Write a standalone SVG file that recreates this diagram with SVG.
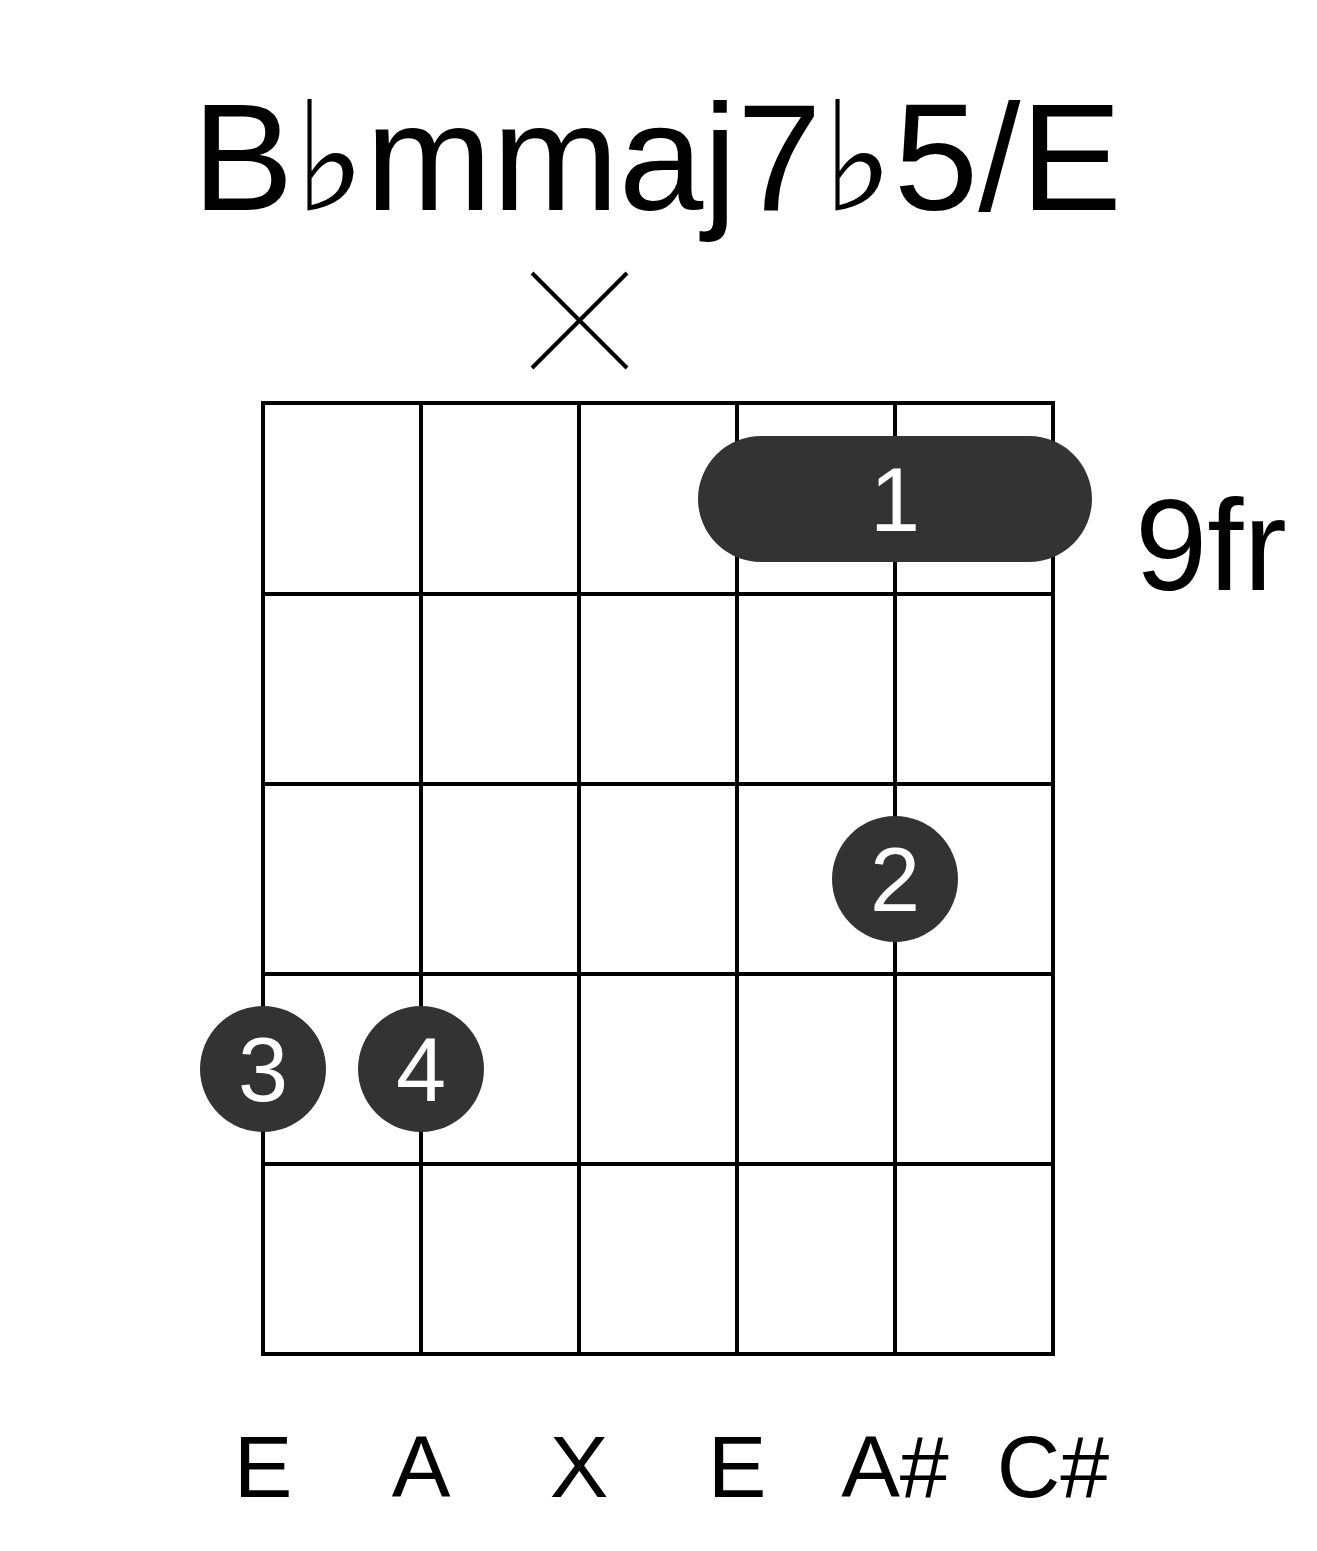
<svg xmlns="http://www.w3.org/2000/svg" width="1317" height="1551" viewBox="0 0 1317 1551">
<style>
.t{font-family:"Liberation Sans",Arial,sans-serif;fill:#000}
.g{stroke:#000;stroke-width:4;fill:none}
.d{fill:#333}
.w{font-family:"Liberation Sans",Arial,sans-serif;fill:#fff;font-size:90px;text-anchor:middle}
.n{font-family:"Liberation Sans",Arial,sans-serif;font-size:88px;text-anchor:middle}
</style>
<rect width="1317" height="1551" fill="#fff"/>
<text id="title" class="t" x="657" y="210" font-size="152" text-anchor="middle">B♭mmaj7♭5/E</text>
<g id="mute" class="g" stroke-width="3"><line x1="532" y1="273" x2="627" y2="368"/><line x1="627" y1="273" x2="532" y2="368"/></g>
<g id="grid" class="g">
<rect x="263" y="403" width="790" height="951"/>
<path d="M421 403V1354M579 403V1354M737 403V1354M895 403V1354M263 594H1053M263 784H1053M263 974H1053M263 1164H1053"/>
</g>
<g id="barre"><rect class="d" x="698" y="436" width="394" height="126" rx="63"/><text class="w" x="895" y="531">1</text></g>
<g id="f2"><circle class="d" cx="895" cy="879" r="63"/><text class="w" x="895" y="911">2</text></g>
<g id="f3"><circle class="d" cx="263" cy="1069" r="63"/><text class="w" x="263" y="1101">3</text></g>
<g id="f4"><circle class="d" cx="421" cy="1069" r="63"/><text class="w" x="421" y="1101">4</text></g>
<text id="fret" class="t" x="1135" y="590" font-size="130">9fr</text>
<g id="notes" class="n">
<text x="263" y="1497">E</text><text x="421" y="1497">A</text><text x="579" y="1497">X</text><text x="737" y="1497">E</text><text x="895" y="1497">A#</text><text x="1053" y="1497">C#</text>
</g>
</svg>
